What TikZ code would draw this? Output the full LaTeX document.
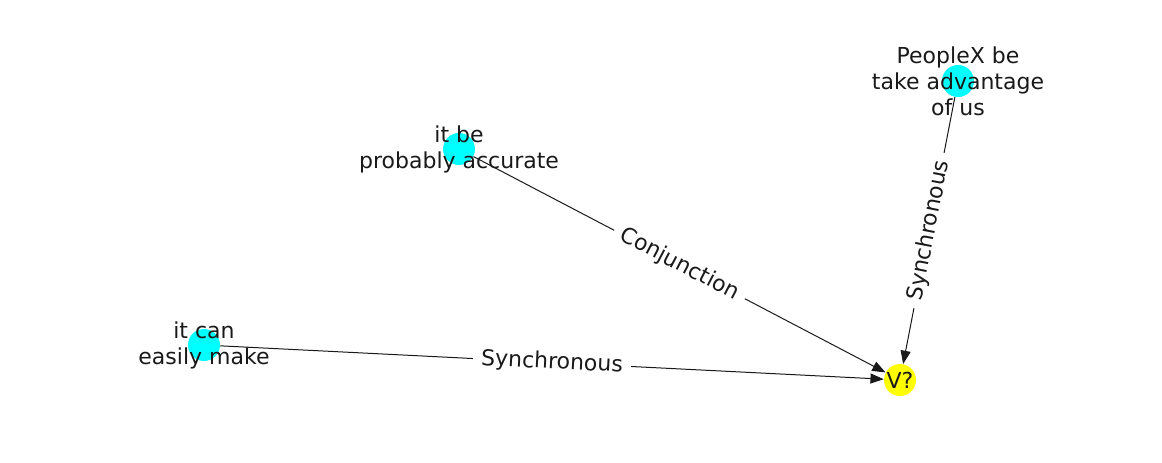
\documentclass[tikz,border=0pt]{standalone}
\usepackage{fontspec}
\setmainfont{DejaVu Sans}
\usetikzlibrary{arrows.meta, positioning}
\definecolor{aqua}{RGB}{0,255,255}
\definecolor{lemon}{RGB}{255,255,0}

\begin{document}
\begin{tikzpicture}[
x=0.75pt, y=-0.75pt,
every node/.style={font=\fontsize{16.5}{19.5}\selectfont, text=black!90},
dot/.style={circle, minimum size=24pt, inner sep=0pt},
event/.style={dot, fill=aqua},
query/.style={dot, fill=lemon},
caption/.style={align=center, inner sep=0pt},
arrow/.style={-{Triangle[length=10pt, width=7.5pt]}, line width=0.75pt, black!90},
rel/.style={midway, sloped, fill=white, inner xsep=6pt, inner ysep=4pt}
]
\useasboundingbox (0,0) rectangle (1162,462);

\node (make) [event] at (204,345) {};
\node (accurate) [event] at (459,149) {};
\node (people) [event] at (958,81) {};
\node (v) [query] at (900,380) {V?};

\draw[arrow] (make) -- node[rel] {Synchronous} (v);
\draw[arrow] (accurate) -- node[rel] {Conjunction} (v);
\draw[arrow] (people) -- node[rel] {Synchronous} (v);

\node [caption] at (make) {it can\\easily make};
\node [caption] at (accurate) {it be\\probably accurate};
\node [caption] at (people) {PeopleX be\\take advantage\\of us};

\end{tikzpicture}
\end{document}
